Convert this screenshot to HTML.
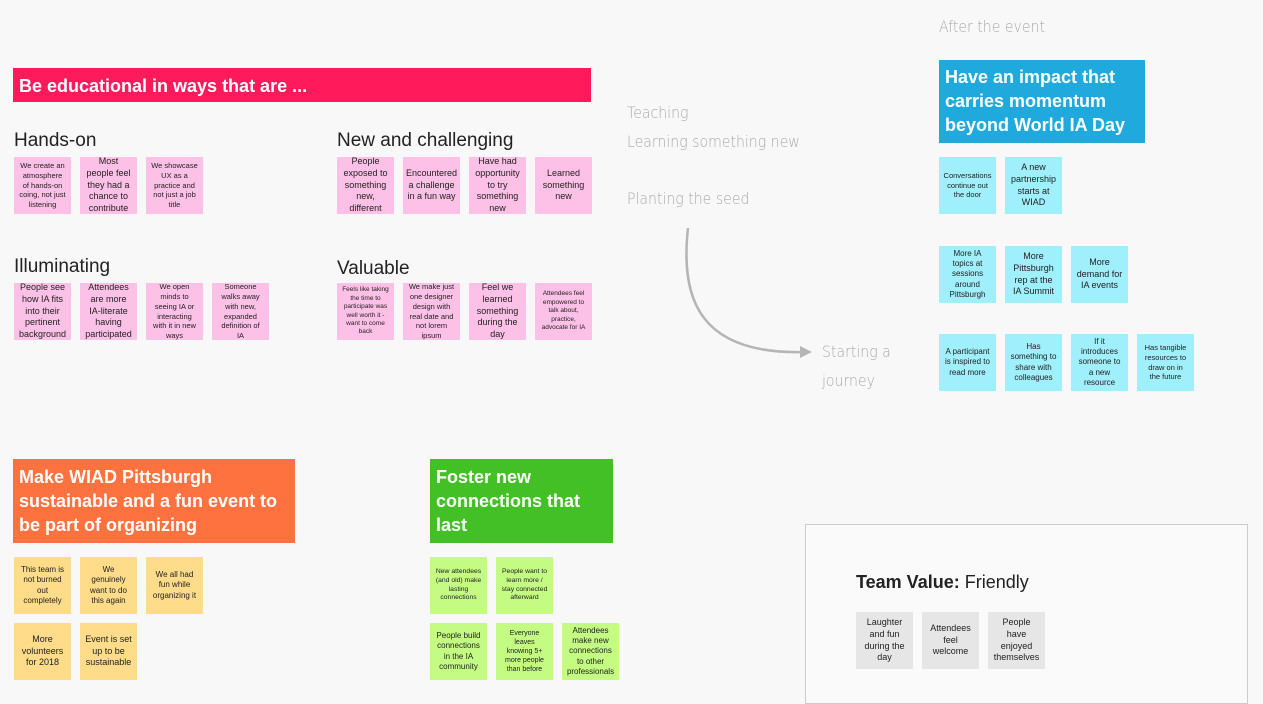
<!DOCTYPE html>
<html><head><meta charset="utf-8"><style>
body{margin:0;width:1263px;height:694px;background:#f8f8f8;position:relative;overflow:hidden;font-family:"Liberation Sans",sans-serif;}
.a{position:absolute}
.s{position:absolute;width:57px;height:57px;display:flex;align-items:center;justify-content:center;text-align:center;font-size:7.5px;line-height:1.3;color:#222;box-sizing:border-box;padding:3px 5px}
.p{background:#fdc0e6}.c{background:#a0effc}.o{background:#fedc8a}.g{background:#c4fb82}.n{background:#e6e6e6}
.b{font-size:9px}
.h{position:absolute;font-size:19px;color:#222}
.hd{position:absolute;color:#fff;font-weight:bold;font-size:18px;line-height:24px;padding:4px 6px;box-sizing:border-box}
.w{position:absolute;color:#aaa;font-size:16px;letter-spacing:0;font-family:"DejaVu Sans",sans-serif;font-weight:200;transform:scaleX(0.88);transform-origin:0 0;white-space:nowrap}
</style></head><body>
<div class="hd" style="left:13px;top:68px;width:578px;height:34px;background:#fe1a5b;padding-top:6px">Be educational in ways that are ...</div>
<div class="h" style="left:14px;top:130px">Hands-on</div>
<div class="h" style="left:337px;top:130px">New and challenging</div>
<div class="h" style="left:14px;top:256px">Illuminating</div>
<div class="h" style="left:337px;top:258px">Valuable</div>

<div class="s p" style="left:14px;top:157px">We create an atmosphere of hands-on coing, not just listening</div>
<div class="s p b" style="left:80px;top:157px">Most people feel they had a chance to contribute</div>
<div class="s p" style="left:146px;top:157px">We showcase UX as a practice and not just a job title</div>
<div class="s p b" style="left:337px;top:157px">People exposed to something new, different</div>
<div class="s p b" style="left:403px;top:157px">Encountered a challenge in a fun way</div>
<div class="s p b" style="left:469px;top:157px">Have had opportunity to try something new</div>
<div class="s p b" style="left:535px;top:157px">Learned something new</div>

<div class="s p b" style="left:14px;top:283px">People see how IA fits into their pertinent background</div>
<div class="s p b" style="left:80px;top:283px">Attendees are more IA-literate having participated</div>
<div class="s p" style="left:146px;top:283px">We open minds to seeing IA or interacting with it in new ways</div>
<div class="s p" style="left:212px;top:283px">Someone walks away with new, expanded definition of IA</div>
<div class="s p" style="left:337px;top:283px;font-size:6.5px">Feels like taking the time to participate was well worth it - want to come back</div>
<div class="s p" style="left:403px;top:283px">We make just one designer design with real date and not lorem ipsum</div>
<div class="s p b" style="left:469px;top:283px">Feel we learned something during the day</div>
<div class="s p" style="left:535px;top:283px;font-size:6.5px">Attendees feel empowered to talk about, practice, advocate for IA</div>

<div class="w" style="left:627px;top:103px">Teaching</div>
<div class="w" style="left:627px;top:132px">Learning something new</div>
<div class="w" style="left:627px;top:189px">Planting the seed</div>
<div class="w" style="left:822px;top:337px;line-height:29px">Starting a<br>journey</div>
<div class="w" style="left:939px;top:17px">After the event</div>
<div class="w" style="left:1068px;top:614px">Emotional</div>
<svg class="a" style="left:0;top:0" width="1263" height="694"><path d="M688 228 C 680 300, 700 355, 805 352" fill="none" stroke="#b5b5b5" stroke-width="2.5"/><path d="M812 352 L800 346 L800 358 Z" fill="#b5b5b5"/></svg>

<div class="hd" style="left:939px;top:60px;width:206px;height:83px;background:#1fa9dc;padding-top:5px">Have an impact that carries momentum beyond World IA Day</div>
<div class="s c" style="left:939px;top:157px">Conversations continue out the door</div>
<div class="s c b" style="left:1005px;top:157px">A new partnership starts at WIAD</div>
<div class="s c" style="left:939px;top:246px;font-size:8px">More IA topics at sessions around Pittsburgh</div>
<div class="s c b" style="left:1005px;top:246px">More Pittsburgh rep at the IA Summit</div>
<div class="s c b" style="left:1071px;top:246px">More demand for IA events</div>
<div class="s c" style="left:939px;top:334px;font-size:8px">A participant is inspired to read more</div>
<div class="s c" style="left:1005px;top:334px;font-size:8px">Has something to share with colleagues</div>
<div class="s c" style="left:1071px;top:334px;font-size:8px">If it introduces someone to a new resource</div>
<div class="s c" style="left:1137px;top:334px">Has tangible resources to draw on in the future</div>

<div class="hd" style="left:13px;top:459px;width:282px;height:84px;background:#fe7240;padding-top:6px">Make WIAD Pittsburgh sustainable and a fun event to be part of organizing</div>
<div class="s o" style="left:14px;top:557px;font-size:8px">This team is not burned out completely</div>
<div class="s o" style="left:80px;top:557px;font-size:8px">We genuinely want to do this again</div>
<div class="s o" style="left:146px;top:557px;font-size:8px">We all had fun while organizing it</div>
<div class="s o b" style="left:14px;top:623px">More volunteers for 2018</div>
<div class="s o b" style="left:80px;top:623px">Event is set up to be sustainable</div>

<div class="hd" style="left:430px;top:459px;width:183px;height:84px;background:#43c026;padding-top:6px">Foster new connections that last</div>
<div class="s g" style="left:430px;top:557px;font-size:6.8px">New attendees (and old) make lasting connections</div>
<div class="s g" style="left:496px;top:557px;font-size:6.8px">People want to learn more / stay connected afterward</div>
<div class="s g" style="left:430px;top:623px;font-size:8px">People build connections in the IA community</div>
<div class="s g" style="left:496px;top:623px;font-size:7px">Everyone leaves knowing 5+ more people than before</div>
<div class="s g" style="left:562px;top:623px;font-size:8px">Attendees make new connections to other professionals</div>

<div class="a" style="left:805px;top:524px;width:443px;height:180px;border:1px solid #ccc;box-sizing:border-box;background:#fafafa"></div>
<div class="a" style="left:856px;top:572px;font-size:18px;color:#222"><b>Team Value:</b> Friendly</div>
<div class="s n b" style="left:856px;top:612px">Laughter and fun during the day</div>
<div class="s n b" style="left:922px;top:612px">Attendees feel welcome</div>
<div class="s n b" style="left:988px;top:612px">People have enjoyed themselves</div>
</body></html>
